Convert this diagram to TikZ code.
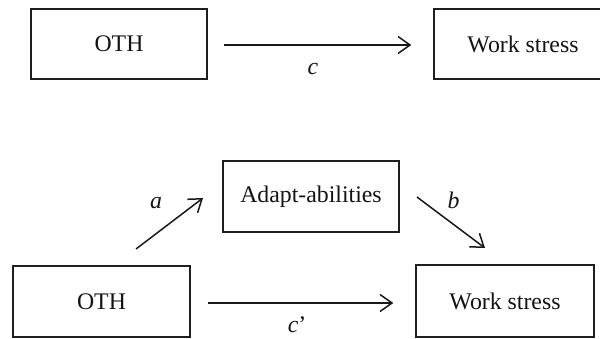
\documentclass[tikz,border=0pt]{standalone}
\usepackage{fontspec}
\setmainfont{Liberation Serif}
\usetikzlibrary{arrows.meta}
\begin{document}
\begin{tikzpicture}[x=1pt,y=-1pt,
  box/.style={draw=black!88,line width=1.4pt,inner sep=0pt,font=\fontsize{23.8}{28}\selectfont,text=black!92},
  lbl/.style={inner sep=0pt,anchor=base,font=\fontsize{23.8}{28}\selectfont\itshape,text=black!92},
  arr/.style={draw=black!90,line width=1.5pt,-{Straight Barb[length=12pt,width=17pt,line width=1.5pt]}}]
\useasboundingbox (0,0) rectangle (600,338);
\clip (0,0) rectangle (600,338);
% top row
\node[box,minimum width=176.3pt,minimum height=70pt] (oth1) at (119,44) {OTH};
\node[box,minimum width=178pt,minimum height=70pt] (ws1) at (523,44) {Work stress};
\draw[arr,shorten <=16pt,shorten >=22pt] (oth1.east |- 0,45) -- (ws1.west |- 0,45);
\node[lbl] (lc) at (313,74) {c};
% bottom row
\node[box,minimum width=176pt,minimum height=71pt] (ad) at (311,196.5) {Adapt-abilities};
\node[box,minimum width=177pt,minimum height=71pt] (oth2) at (101.5,301.5) {OTH};
\node[box,minimum width=178pt,minimum height=72pt] (ws2) at (505,301) {Work stress};
\draw[arr,shorten <=17pt,shorten >=22pt] (oth2.east |- 0,303) -- (ws2.west |- 0,303);
\node[lbl] (lcp) at (297,332) {c\upshape'};
\coordinate (a1) at (136,249);
\coordinate (a2) at (203,198);
\draw[arr] (a1) -- (a2);
\node[lbl] (la) at (156,208) {a};
\coordinate (b1) at (417,197);
\coordinate (b2) at (485,248);
\draw[arr] (b1) -- (b2);
\node[lbl] (lb) at (453.5,208) {b};
\end{tikzpicture}
\end{document}
